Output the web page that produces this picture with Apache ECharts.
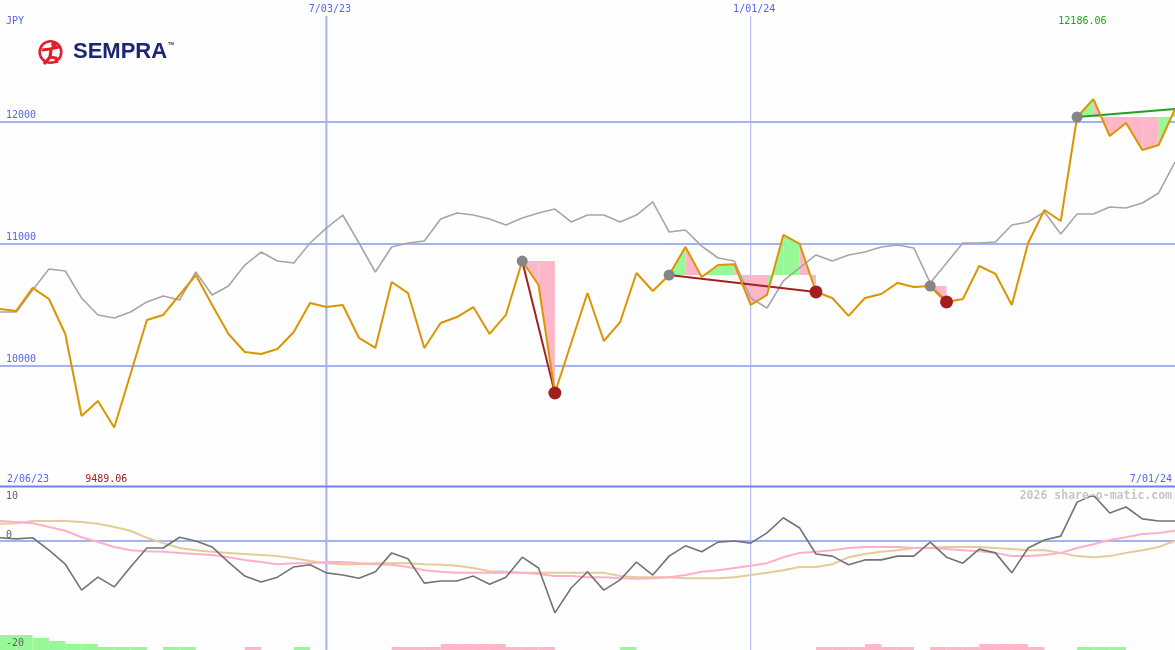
<!DOCTYPE html>
<html><head><meta charset="utf-8">
<script src="https://cdn.jsdelivr.net/npm/echarts/dist/echarts.min.js"></script>
<style>html,body{margin:0;padding:0;background:#fdfefd}#c{width:1175px;height:650px}</style>
</head><body><div id="c"></div>
<script>
// ---- data (weekly, index 0 = 2/13/23 ... index 72 = 7/01/24) ----
const price = [10462,10446,10635,10544,10257,9583,9706,9489.06,9928,10372,
  10413,10577,10741,10495,10257,10109,10092,10134,10273,10511,
  10478,10495,10224,10142,10684,10593,10142,10347,10396,10478,
  10257,10413,10856,10659,9772,10183,10593,10199,10355,10758,
  10610,10741,10971,10725,10823,10830,10495,10577,11070,10996,
  10602,10552,10405,10552,10585,10676,10643,10651,10520,10544,
  10815,10750,10495,11004,11275,11185,12039,12186.06,11883,11990,
  11768,11809,12105];
const compare = [10437,10437,10618,10791,10774,10552,10413,10388,10437,10520,
  10569,10536,10766,10577,10651,10823,10930,10856,10840,11004,
  11127,11234,11004,10766,10971,11004,11021,11201,11251,11234,
  11201,11152,11210,11251,11283,11177,11234,11234,11177,11234,
  11341,11095,11111,10979,10881,10856,10552,10470,10692,10799,
  10906,10856,10906,10930,10971,10988,10963,10676,10840,11004,
  11004,11012,11152,11177,11259,11078,11242,11242,11300,11292,
  11333,11415,11669];
const osc = [0.6,0.4,0.6,-1.7,-4.3,-9.1,-6.7,-8.5,-4.8,-1.3,
  -1.3,0.7,0,-1.1,-3.9,-6.5,-7.6,-6.7,-4.8,-4.4,
  -5.9,-6.3,-6.9,-5.7,-2.2,-3.3,-7.8,-7.4,-7.4,-6.5,
  -8.0,-6.7,-3.0,-5.0,-13.3,-8.7,-5.7,-9.1,-7.2,-3.9,
  -6.3,-2.8,-0.9,-2.0,-0.2,0,-0.4,1.5,4.3,2.4,
  -2.4,-2.8,-4.4,-3.5,-3.5,-2.8,-2.8,-0.2,-3.0,-4.1,
  -1.5,-2.2,-5.9,-1.3,0.2,0.9,7.2,8.5,5.2,6.3,
  4.1,3.7,3.7];
const oscPink = [3.7,3.5,3.3,2.6,1.9,0.7,-0.2,-1.1,-1.7,-1.9,
  -2.0,-2.2,-2.4,-2.6,-3.0,-3.5,-3.9,-4.3,-4.1,-4.1,
  -3.9,-3.9,-4.1,-4.3,-4.4,-4.8,-5.4,-5.7,-5.9,-5.9,
  -5.9,-5.9,-5.9,-6.1,-6.5,-6.5,-6.7,-6.7,-6.9,-7.0,
  -6.9,-6.7,-6.3,-5.7,-5.4,-5.0,-4.6,-4.1,-3.0,-2.2,
  -2.0,-1.7,-1.3,-1.1,-1.1,-1.1,-1.3,-1.3,-1.5,-1.7,
  -1.9,-2.2,-2.8,-2.8,-2.6,-2.2,-1.3,-0.6,0.2,0.7,
  1.3,1.5,1.9];
const oscTan = [3.2,3.3,3.7,3.7,3.7,3.5,3.2,2.6,1.9,0.6,
  -0.4,-1.3,-1.7,-2.0,-2.2,-2.4,-2.6,-2.8,-3.2,-3.7,
  -4.1,-4.3,-4.3,-4.1,-4.1,-4.1,-4.3,-4.4,-4.6,-5.0,
  -5.6,-5.7,-5.9,-5.9,-5.9,-5.9,-5.9,-5.9,-6.5,-6.7,
  -6.7,-6.7,-6.9,-6.9,-6.9,-6.7,-6.3,-5.9,-5.4,-4.8,
  -4.8,-4.3,-3.0,-2.4,-2.0,-1.7,-1.3,-1.3,-1.1,-1.1,
  -1.1,-1.3,-1.5,-1.7,-1.7,-2.2,-2.8,-3.0,-2.8,-2.2,
  -1.7,-1.1,0];
// weekly histogram (one value per week interval), + green, - pink
const histo = [5,5,4,3,2,2,1,1,1,0, 1,1,0,0,0,-1,0,0,1,0,
  0,0,0,0,-1,-1,-1,-2,-2,-2, -2,-1,-1,-1,0,0,0,0,1,0,
  0,0,0,0,0,0,0,0,0,0, -1,-1,-1,-2,-1,-1,0,-1,-1,-1,
  -2,-2,-2,-1,0,0,1,1,1,0, 0,0];
const trendStart = [32,41,57,66];
const trendEnd = [34,50,58,72];
const trendUp = [false,false,false,true];
const trendClosed = [true,true,true,false];
const priceTicks = [10000,11000,12000];
const oscTicks = [10,0,-20];
const dateTickIndex = [20,46];
const dateTickLabel = ['7/03/23','1/01/24'];
const rangeStartLabel = '2/06/23';
const rangeEndLabel = '7/01/24';
const currency = 'JPY';
const watermark = '2026 share-o-matic.com';

// ---- styles ----
const GREEN='#98f898', PINK='#ffb6c8', GRID='#a4b2f2', TXT='#5565f0';
const MONO='"DejaVu Sans Mono", monospace';
const xy = a => a.map((v,i)=>[i,v]);

const fillData = [];
trendStart.forEach((s,k)=>{
  const e = trendEnd[k], base = price[s];
  for (let i=s;i<e;i++) fillData.push([i,i+1,base,price[i],price[i+1],price[i+1]>=base?1:0]);
});

const series = [];
series.push({type:'custom',xAxisIndex:0,yAxisIndex:0,z:1,silent:true,data:fillData,
  encode:{x:[0,1],y:[2,3,4]},
  renderItem:(p,api)=>{
    const a=api.value(0),b=api.value(1),base=api.value(2),p0=api.value(3),p1=api.value(4),up=api.value(5);
    return {type:'polygon',shape:{points:[api.coord([a,base]),api.coord([a,p0]),api.coord([b,p1]),api.coord([b,base])]},
      style:{fill:up?GREEN:PINK,stroke:null}};
  }});
series.push({type:'line',xAxisIndex:0,yAxisIndex:0,z:2,data:xy(compare),symbol:'none',
  lineStyle:{color:'#a6a6a6',width:1.6},silent:true});
trendStart.forEach((s,k)=>{
  const e=trendEnd[k];
  series.push({type:'line',xAxisIndex:0,yAxisIndex:0,z:3,symbol:'none',silent:true,
    data:[[s,price[s]],[e,price[e]]],lineStyle:{color:trendUp[k]?'#22a022':'#a32222',width:2}});
});
series.push({type:'line',xAxisIndex:0,yAxisIndex:0,z:4,data:xy(price),symbol:'none',
  lineStyle:{color:'#dc9400',width:2},silent:true});
series.push({type:'scatter',xAxisIndex:0,yAxisIndex:0,z:5,symbolSize:11,silent:true,
  itemStyle:{color:'#858585',opacity:1},data:trendStart.map(s=>[s,price[s]])});
series.push({type:'scatter',xAxisIndex:0,yAxisIndex:0,z:5,symbolSize:13,silent:true,
  itemStyle:{color:'#a21f1f',opacity:1},data:trendEnd.filter((e,k)=>trendClosed[k]).map(e=>[e,price[e]])});
// lower panel
series.push({type:'line',xAxisIndex:1,yAxisIndex:1,z:2,data:xy(oscTan),symbol:'none',silent:true,
  lineStyle:{color:'#e4cc98',width:2}});
series.push({type:'line',xAxisIndex:1,yAxisIndex:1,z:2,data:xy(oscPink),symbol:'none',silent:true,
  lineStyle:{color:'#ffb0c8',width:2}});
series.push({type:'line',xAxisIndex:1,yAxisIndex:1,z:3,data:xy(osc),symbol:'none',silent:true,
  lineStyle:{color:'#737373',width:1.6},
  markLine:{silent:true,symbol:'none',label:{show:false},z:1,
    lineStyle:{color:GRID,width:2,type:'solid'},data:[{yAxis:0}]}});
series.push({type:'bar',xAxisIndex:2,yAxisIndex:2,z:2,silent:true,barCategoryGap:'0%',barWidth:'100%',
  data:histo.map(v=>({value:Math.abs(v),itemStyle:{color:v>=0?GREEN:PINK}}))});

const chart = echarts.init(document.getElementById('c'));
chart.setOption({
  animation:false,
  backgroundColor:'#fdfefd',
  grid:[{left:0,top:0,width:1177,height:487},{left:0,top:487,width:1177,height:162},{left:0,top:635,width:1177,height:15}],
  xAxis:[{type:'value',gridIndex:0,min:0,max:72,show:false},
         {type:'value',gridIndex:1,min:0,max:72,show:false},
         {type:'category',gridIndex:2,data:histo.map((_,i)=>i),boundaryGap:true,show:false}],
  yAxis:[{type:'value',gridIndex:0,min:9000,max:13000,interval:1000,
          axisLine:{show:false},axisTick:{show:false},axisLabel:{show:false},
          splitLine:{show:true,showMinLine:false,showMaxLine:false,lineStyle:{color:GRID,width:2}}},
         {type:'value',gridIndex:1,min:-20,max:10,show:false},
         {type:'value',gridIndex:2,min:0,max:5,show:false}],
  series
});

// ---- overlay texts / lines positioned through the axes ----
const px = (g,i,v)=>chart.convertToPixel({gridIndex:g},[i,v]);
const T = (x,y,text,fill,align,extra)=>Object.assign({type:'text',x,y,z:100,silent:true,
  style:{text,fill,font:'10px '+MONO,textAlign:align||'left',textVerticalAlign:'middle'}},extra||{});
const g = [];
dateTickIndex.forEach((idx,k)=>{
  const x = px(0,idx,10000)[0];
  g.push({type:'line',z:0,silent:true,shape:{x1:x,y1:16,x2:x,y2:650},
    style:{stroke:GRID,lineWidth:k===0?2:1}});
  g.push(T(x+3.5,9,dateTickLabel[k],TXT,'center'));
});
priceTicks.forEach(v=>{ const y=px(0,0,v)[1]; g.push(T(6,y-6,String(v),TXT,'left')); });
g.push({type:'line',z:50,silent:true,shape:{x1:0,y1:486.5,x2:1175,y2:486.5},style:{stroke:'#7282ec',lineWidth:2}});
// osc tick labels
oscTicks.forEach(v=>{
  const y = px(1,0,v)[1];
  const yy = v===10 ? y+9 : y-6;
  g.push(T(6,yy,String(v),'#5e5e5e','left'));
});
// max / min labels
let iMax=0,iMin=0; price.forEach((v,i)=>{ if(v>price[iMax]) iMax=i; if(v<price[iMin]) iMin=i; });
g.push(T(px(0,iMax,price[iMax])[0]-11,21,price[iMax].toFixed(2),'#22a022','center'));
g.push(T(px(0,iMin,price[iMin])[0]-8,479,price[iMin].toFixed(2),'#a32222','center'));
g.push(T(7,479,rangeStartLabel,TXT,'left'));
g.push(T(1172,479,rangeEndLabel,TXT,'right'));
g.push(T(6,21,currency,TXT,'left'));
g.push({type:'text',x:1172,y:496,z:100,silent:true,style:{text:watermark,fill:'#c6c6c6',
  font:'bold 11.5px '+MONO,textAlign:'right',textVerticalAlign:'middle'}});
// logo
g.push({type:'circle',z:100,silent:true,shape:{cx:50.5,cy:52,r:10.8},style:{fill:'none',stroke:'#e11f2a',lineWidth:2.6}});
g.push({type:'circle',z:100,silent:true,shape:{cx:54,cy:44.5,r:2.8},style:{fill:'#e11f2a'}});
g.push({type:'polyline',z:100,silent:true,shape:{points:[[42,50],[50,49],[59,47]]},style:{stroke:'#e11f2a',lineWidth:3,fill:'none'}});
g.push({type:'polyline',z:100,silent:true,shape:{points:[[44,64],[50,57],[51,50]]},style:{stroke:'#e11f2a',lineWidth:3.2,fill:'none'}});
g.push({type:'polyline',z:100,silent:true,shape:{points:[[50,57],[56,58],[57,63]]},style:{stroke:'#e11f2a',lineWidth:3,fill:'none'}});
g.push({type:'text',x:73,y:52,z:100,silent:true,style:{text:'SEMPRA',fill:'#1b2677',
  font:'bold 22px "Liberation Sans", Arial, sans-serif',textAlign:'left',textVerticalAlign:'middle'}});
g.push({type:'text',x:168,y:44,z:100,silent:true,style:{text:'TM',fill:'#1b2677',
  font:'bold 4px "Liberation Sans", sans-serif',textAlign:'left',textVerticalAlign:'middle'}});
chart.setOption({graphic:g});
</script></body></html>
